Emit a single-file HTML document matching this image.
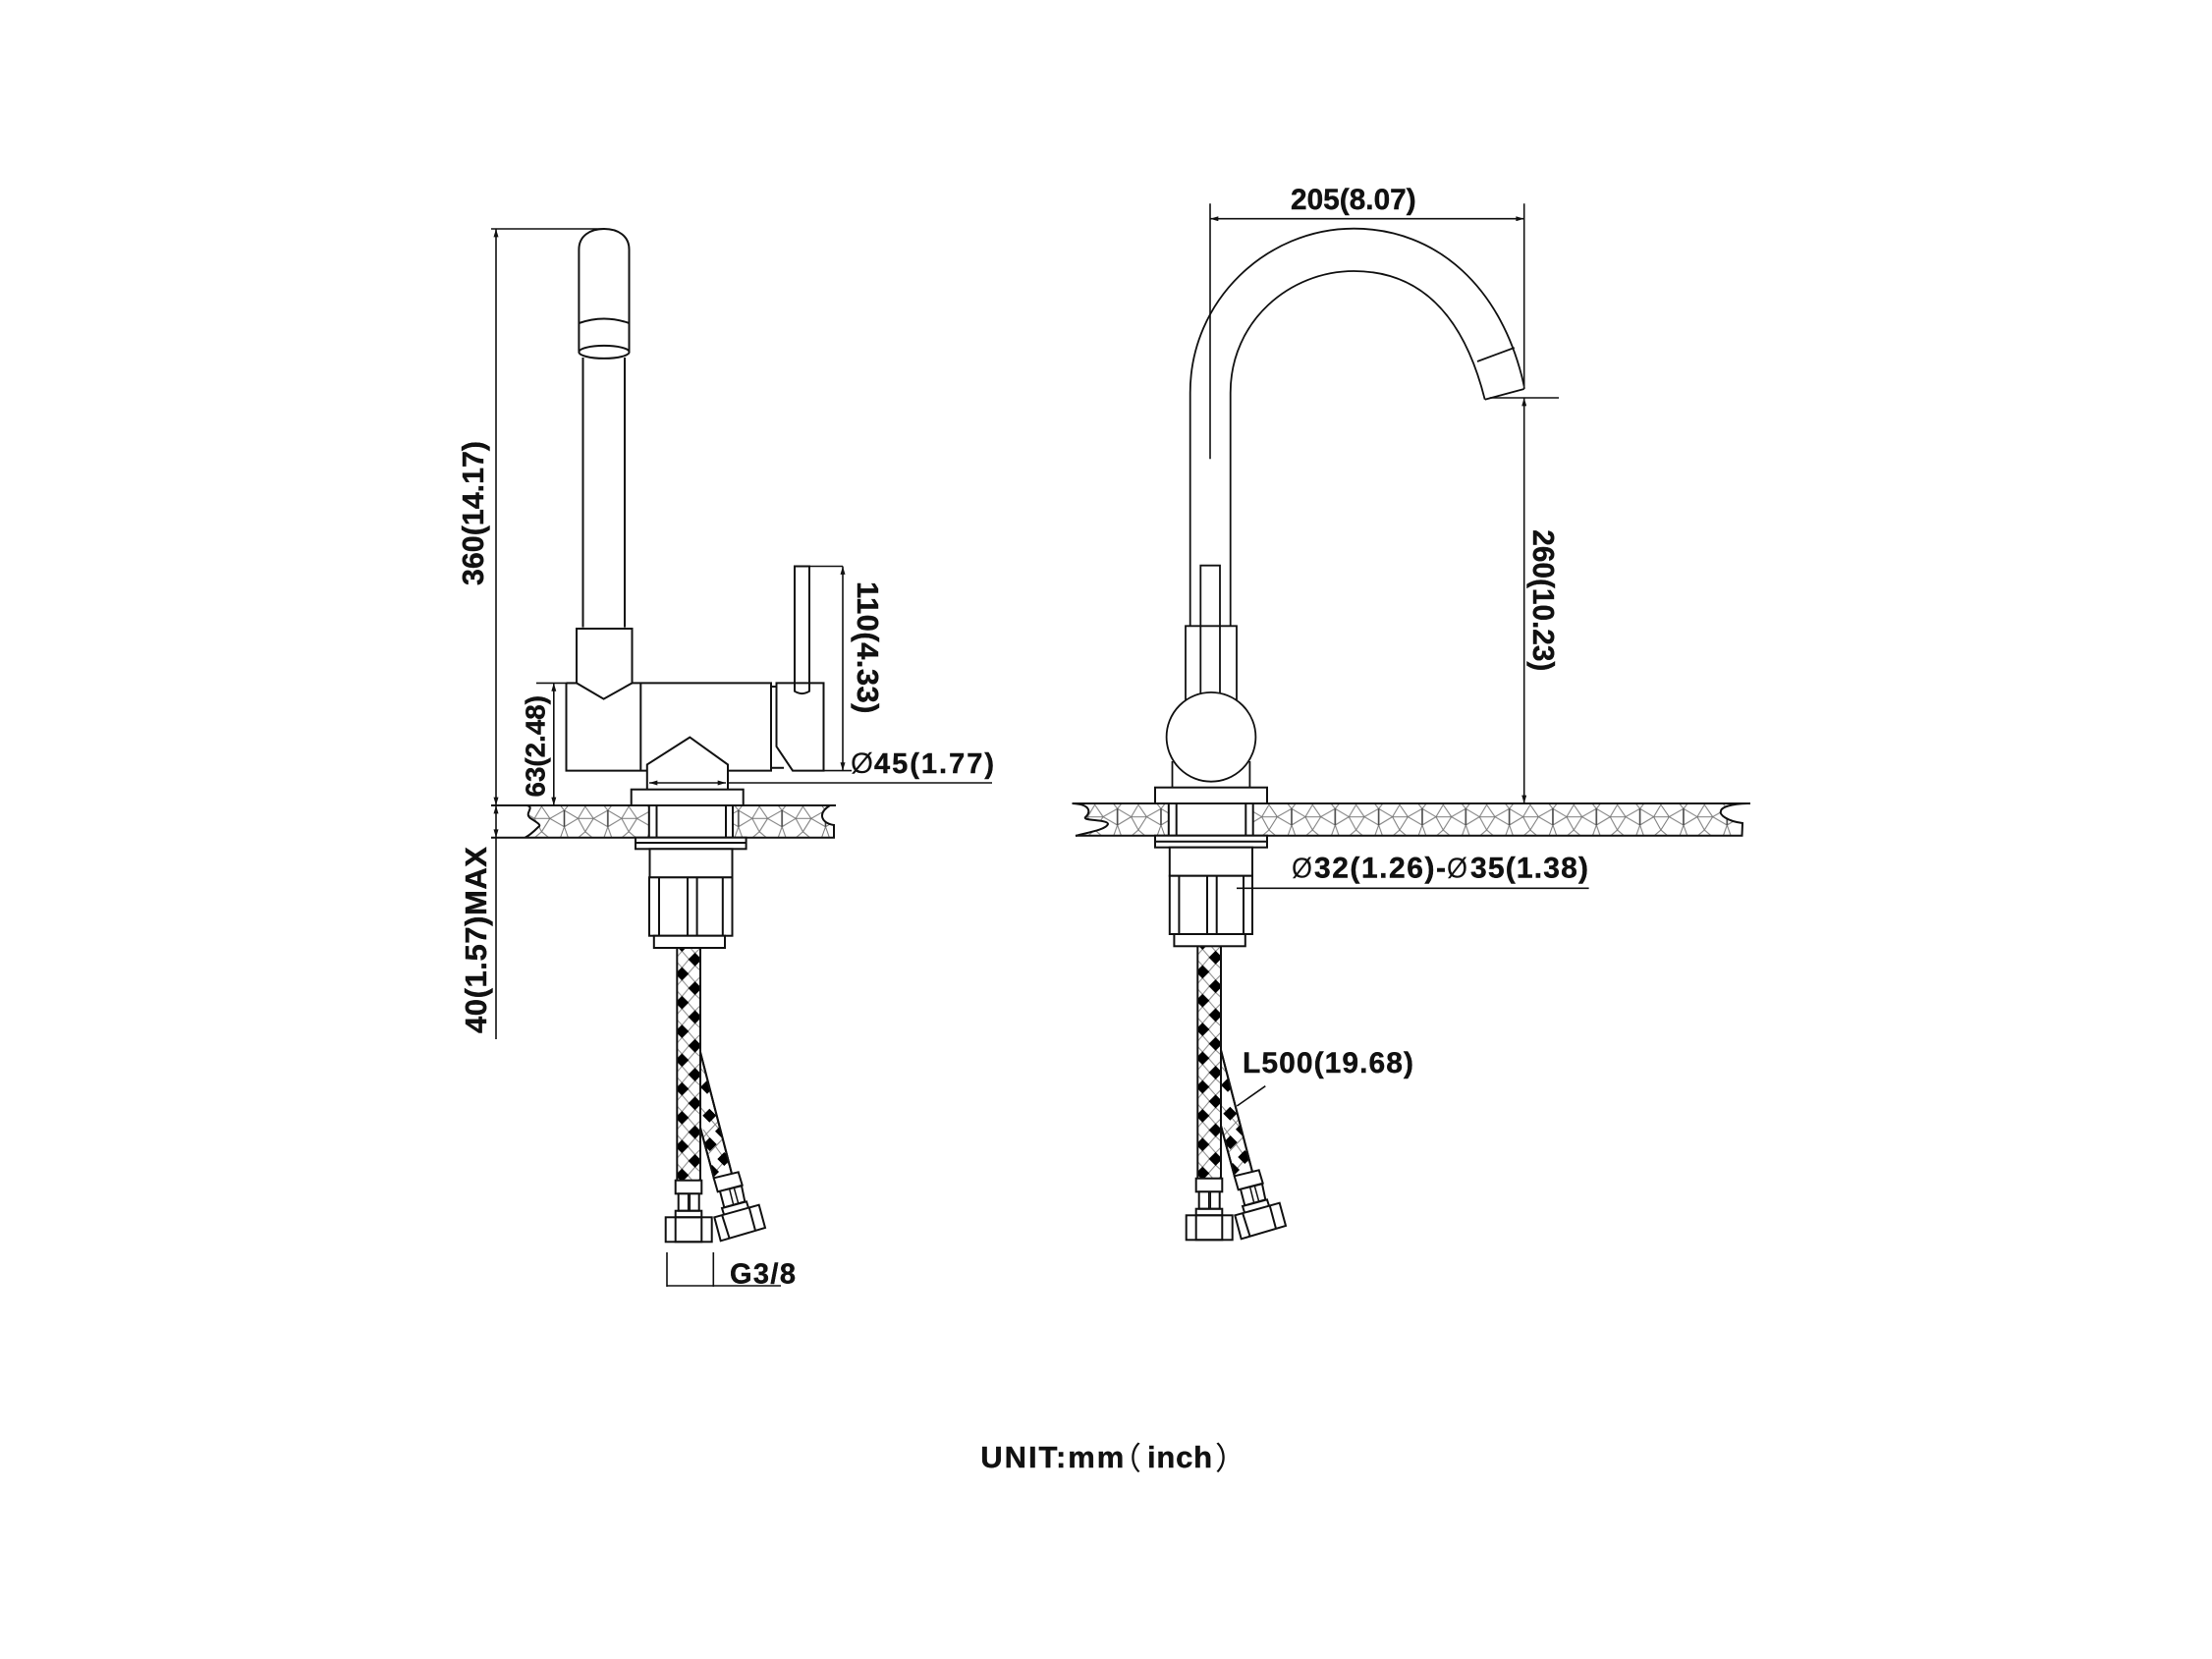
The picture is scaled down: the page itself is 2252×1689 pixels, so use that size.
<!DOCTYPE html>
<html><head><meta charset="utf-8"><style>
html,body{margin:0;padding:0;background:#fff}
svg{display:block}
text{font-family:"Liberation Sans","Noto Sans CJK SC",sans-serif;font-weight:bold;fill:#111}
.b{stroke:#111;stroke-width:.4}
</style></head><body>
<svg width="2252" height="1689" viewBox="0 0 2252 1689" xmlns="http://www.w3.org/2000/svg">
<defs>
<marker id="a" viewBox="0 0 10 6" refX="10" refY="3" markerWidth="10" markerHeight="5" markerUnits="userSpaceOnUse" orient="auto-start-reverse"><path d="M0,0L10,3L0,6Z" fill="#111"/></marker>
<pattern id="stoneL" patternUnits="userSpaceOnUse" width="44.33" height="32.7" x="574.5" y="820"><use href="#st"/></pattern>
<pattern id="stoneR" patternUnits="userSpaceOnUse" width="44.33" height="32.4" x="1359.3" y="818.3"><use href="#st"/></pattern>
<g id="st" fill="none" stroke="#777" stroke-width="1">
<path d="M0,5L14,13.3L0,21.7M14,13.3L21.3,1L29.7,13.3M14,13.3H29.7M14,13.3L21.3,26.7L29.7,13.3M29.7,13.3L44.33,5M29.7,13.3L44.33,21.7M21.3,26.7L14,33M21.3,26.7L28.7,33M0,5L4,0M44.33,5L40.3,0M0,21.7L4,33M44.33,21.7L40.3,33"/>
<path d="M0,5V21.7M44.33,5V21.7" stroke="#444" stroke-width="1.6"/>
</g>
<pattern id="braid" patternUnits="userSpaceOnUse" width="23.7" height="29.3" x="689.3" y="1050">
<rect width="23.7" height="29.3" fill="#fff"/>
<g fill="none" stroke="#888" stroke-width="1">
<path d="M11,0L18.3,8.4M5,6.3L12.3,14.7M18.3,21L11,29.3M12,14.7L5,23M18.3,8.4L23.7,3M5,6.3L0,12M18.3,21L23.7,26M5,23L0,17.5"/>
</g>
<path d="M5,-7L12,0L5,7L-2,0ZM5,22.3L12,29.3L5,36.3L-2,29.3ZM18.3,7.7L25.3,14.7L18.3,21.7L11.3,14.7Z" fill="#000"/>
</pattern>
<clipPath id="h2"><path d="M712.7,1070L745,1195L727,1200L712.7,1147Z"/></clipPath>
<g id="hoses" fill="#fff" stroke="#111" stroke-width="2">
<path d="M712.7,1070L745,1195L727,1200L712.7,1147Z"/>
<g clip-path="url(#h2)">
<path d="M712,1086L736,1115M712,1126L741,1160M712,1110L730,1092M714,1160L742,1130M716,1180L745,1150M718,1205L748,1170M716,1150L745,1190" fill="none" stroke="#888" stroke-width="1"/>
<g fill="#000" stroke="none">
<path d="M720,1099.7L727,1106.7L720,1113.7L713,1106.7Z"/>
<path d="M722.3,1128.7L729.3,1135.7L722.3,1142.7L715.3,1135.7Z"/>
<path d="M735,1144.7L742,1151.7L735,1158.7L728,1151.7Z"/>
<path d="M722.7,1158L729.7,1165L722.7,1172L715.7,1165Z"/>
<path d="M737.3,1173L744.3,1180L737.3,1187L730.3,1180Z"/>
<path d="M725,1186L732,1193L725,1200L718,1193Z"/>
</g></g>
<path d="M712.7,1070L745,1195M712.7,1147L727,1200" fill="none"/>
<rect x="689.3" y="960" width="23.7" height="242" fill="url(#braid)"/>
<rect x="687.7" y="1201.7" width="26.6" height="13.6"/>
<rect x="690.7" y="1215.3" width="21" height="17.4"/>
<path d="M700.7,1215.3V1232.7M702.3,1215.3V1232.7" fill="none" stroke-width="1.5"/>
<rect x="677.7" y="1239.3" width="47" height="25"/>
<rect x="687.7" y="1232.7" width="26.6" height="31.6" fill="none"/>
<path d="M687.7,1239.3H714.3" fill="none"/>
<path d="M726.7,1199.3L751.7,1193.3L755.7,1206.7L730.7,1213.3Z"/>
<path d="M733,1212.7L737.3,1229.3L758.3,1223.3L755,1207.3Z"/>
<path d="M742.7,1210.7L746.7,1226.7M747.3,1209.3L751.7,1225.3" fill="none" stroke-width="1.5"/>
<path d="M735,1230L760,1223.3L762.3,1230.7L737.3,1237.3Z"/>
<path d="M727.3,1239.3L772.7,1226.7L779,1250L733.7,1263.3Z"/>
<path d="M735,1236.7L742.7,1261M762.7,1229.3L769,1252.7" fill="none"/>
</g>
</defs>
<rect width="2252" height="1689" fill="#fff"/>

<!-- LEFT tabletop -->
<path d="M536.5,820C545,822 533,828 540,833C546,837 552,840 548,842C544,846 538,851 534.6,852.7H850V840C836,838 832,828 845,820Z" fill="url(#stoneL)"/>
<g fill="none" stroke="#111" stroke-width="2">
<path d="M500,820H851M500,852.7H539M534.6,852.7H849V840C836,838 832,828 845,820M536.5,820C545,822 533,828 540,833C546,837 552,840 548,842C544,846 538,851 534.6,852.7"/>
</g>
<g fill="#fff" stroke="#111" stroke-width="2">
<rect x="660.8" y="820" width="85.2" height="32.7"/>
<path d="M668.5,820V852.7M739,820V852.7" fill="none"/>
<rect x="642.7" y="803.7" width="114" height="16.3"/>
<rect x="647" y="852.7" width="112.6" height="11.6"/>
<path d="M647,858H759.6" fill="none"/>
<rect x="661.5" y="864.3" width="84" height="29"/>
<rect x="661" y="893.3" width="84.5" height="59.4"/>
<path d="M671,893.3V952.7M700,893.3V952.7M709.6,893.3V952.7M735.8,893.3V952.7" fill="none"/>
</g>
<use href="#hoses"/>
<rect x="665.8" y="952.7" width="72.2" height="12.3" fill="#fff" stroke="#111" stroke-width="2"/>

<!-- LEFT faucet -->
<g fill="none" stroke="#111" stroke-width="2">
<path d="M589.4,357.5V254C589.4,240 601,233 615,233C629,233 640.5,240 640.5,254V357.5"/>
<path d="M589.4,329Q615,320 640.5,329"/>
<ellipse cx="615" cy="358.4" rx="25.6" ry="6.5"/>
<path d="M593.5,364V638.6M636,364V638.6"/>
<path d="M587,640H643.5V695.4L614.6,711.6L587,695.4Z"/>
<path d="M576.5,695.4H587M643.5,695.4H785V784.6H741M658.8,784.6H576.5V695.4M652.3,695.4V784.6"/>
<path d="M785,699H790.5M785,781.7H798"/>
<path d="M790.5,695.4H838.5V784.6H807L790.5,760Z"/>
<path d="M809,695.4V576.5H824V703.7Q816.5,708.5 809,703.7V695.4"/>
<path d="M658.8,803V778.4L702.3,750.6L741,778.4V803"/>
</g>

<!-- LEFT dims -->
<g fill="none" stroke="#111" stroke-width="1.6">
<path d="M500,233H615"/>
<path d="M505,233V820" marker-start="url(#a)" marker-end="url(#a)"/>
<path d="M505,820V852.7" marker-start="url(#a)" marker-end="url(#a)"/>
<path d="M505,852.7V1058"/>
<path d="M546,695.4H587"/>
<path d="M563.8,695.4V820" marker-start="url(#a)" marker-end="url(#a)"/>
<path d="M824,576.5H858"/>
<path d="M858,576.5V784.6" marker-start="url(#a)" marker-end="url(#a)"/>
<path d="M838.5,784.6H867"/>
<path d="M661,797H739" marker-start="url(#a)" marker-end="url(#a)"/>
<path d="M741,797H1010"/>
<path d="M679,1275V1310M726.3,1275V1310M679,1309H795"/>
</g>
<text class="b" transform="translate(492,596) rotate(-90)" font-size="31" textLength="147" lengthAdjust="spacingAndGlyphs">360(14.17)</text>
<text class="b" transform="translate(554.6,811.5) rotate(-90)" font-size="28" textLength="103.5" lengthAdjust="spacingAndGlyphs">63(2.48)</text>
<text class="b" transform="translate(873,592) rotate(90)" font-size="31" textLength="134.5" lengthAdjust="spacing">110(4.33)</text>
<text class="b" transform="translate(495,1052) rotate(-90)" font-size="31" textLength="190" lengthAdjust="spacing">40(1.57)MAX</text>
<text x="866" y="787" font-size="30" style="font-weight:normal" textLength="23" lengthAdjust="spacingAndGlyphs">Ø</text>
<text class="b" x="890" y="787" font-size="29" textLength="122" lengthAdjust="spacing">45(1.77)</text>
<text class="b" x="743" y="1306.7" font-size="29" textLength="67" lengthAdjust="spacing">G3/8</text>

<!-- RIGHT tabletop -->
<path d="M1092,818C1112,819 1110,828 1105,832C1102,836 1128,834 1128,839C1126,845 1105,848 1095,851H1773L1774,838C1758,836 1750,829 1752,826C1752,822 1762,818 1781.7,818Z" fill="url(#stoneR)"/>
<g fill="none" stroke="#111" stroke-width="2">
<path d="M1091.5,818H1782"/>
<path d="M1095,850.7H1773.5L1774,838C1758,836 1750,829 1752,826C1752,822 1762,818 1781.7,818"/>
<path d="M1092,818C1112,819 1110,828 1105,832C1102,836 1128,834 1128,839C1126,845 1105,848 1095,851"/>
</g>
<g fill="#fff" stroke="#111" stroke-width="2">
<rect x="1189.8" y="818" width="85.9" height="32.7"/>
<path d="M1197.7,818V850.7M1268.3,818V850.7" fill="none"/>
<rect x="1176" y="801.7" width="114" height="16.3"/>
<rect x="1176" y="850.7" width="114" height="12"/>
<path d="M1176,856.7H1290" fill="none"/>
<rect x="1190.8" y="862.7" width="84.2" height="29"/>
<rect x="1190.8" y="891.7" width="84.2" height="59.3"/>
<path d="M1200.4,891.7V951M1229,891.7V951M1238.7,891.7V951M1266,891.7V951" fill="none"/>
</g>
<use href="#hoses" transform="translate(530,-2)"/>
<rect x="1195.4" y="951" width="72.4" height="12.3" fill="#fff" stroke="#111" stroke-width="2"/>

<!-- RIGHT faucet -->
<g fill="none" stroke="#111" stroke-width="1.8">
<path d="M1211.7,637.3V400C1211.7,305 1290,232.7 1378.3,232.7C1463.3,232.7 1530,293.3 1551.7,393.3"/>
<path d="M1252.7,637.3V400C1252.7,326.7 1313.3,276 1378.3,276C1440,276 1488.3,313.3 1511.7,406.7"/>
<path d="M1504,368L1541.7,354M1511.7,406.7L1551.7,396M1551.7,393.3V396"/>
<path d="M1207,715V637.3H1259V715"/>
<path d="M1222.3,706V575.7H1242V706"/>
<path d="M1193.5,775V801.7M1272.4,775V801.7"/>
<circle cx="1233" cy="750.3" r="45.4" fill="#fff"/>
</g>

<!-- RIGHT dims -->
<g fill="none" stroke="#111" stroke-width="1.6">
<path d="M1232,207.3V467.3M1551.7,207.3V393"/>
<path d="M1232,222.7H1551.7" marker-start="url(#a)" marker-end="url(#a)"/>
<path d="M1516.7,405H1587"/>
<path d="M1551.7,405V818" marker-start="url(#a)" marker-end="url(#a)"/>
<path d="M1259,904.3H1617.6"/>
<path d="M1288.3,1105.7L1259.3,1126"/>
</g>
<text class="b" x="1314" y="212.8" font-size="30" textLength="127.7" lengthAdjust="spacingAndGlyphs">205(8.07)</text>
<text class="b" transform="translate(1561,539.3) rotate(90)" font-size="31" textLength="144" lengthAdjust="spacingAndGlyphs">260(10.23)</text>
<text x="1315" y="893.3" font-size="29" style="font-weight:normal" textLength="21" lengthAdjust="spacingAndGlyphs">Ø</text>
<text class="b" x="1338" y="893.3" font-size="30" textLength="134" lengthAdjust="spacing">32(1.26)-</text>
<text x="1473" y="893.3" font-size="29" style="font-weight:normal" textLength="21" lengthAdjust="spacingAndGlyphs">Ø</text>
<text class="b" x="1497" y="893.3" font-size="30" textLength="120" lengthAdjust="spacing">35(1.38)</text>
<text class="b" x="1265" y="1092" font-size="30" textLength="174" lengthAdjust="spacing">L500(19.68)</text>
<text class="b" x="998.3" y="1494" font-size="31" textLength="146" lengthAdjust="spacing">UNIT:mm</text>
<text x="1130" y="1496" font-size="32" style="font-weight:normal">（</text>
<text class="b" x="1168" y="1494" font-size="31" textLength="66" lengthAdjust="spacing">inch</text>
<text x="1237" y="1496" font-size="32" style="font-weight:normal">）</text>
</svg>
</body></html>
